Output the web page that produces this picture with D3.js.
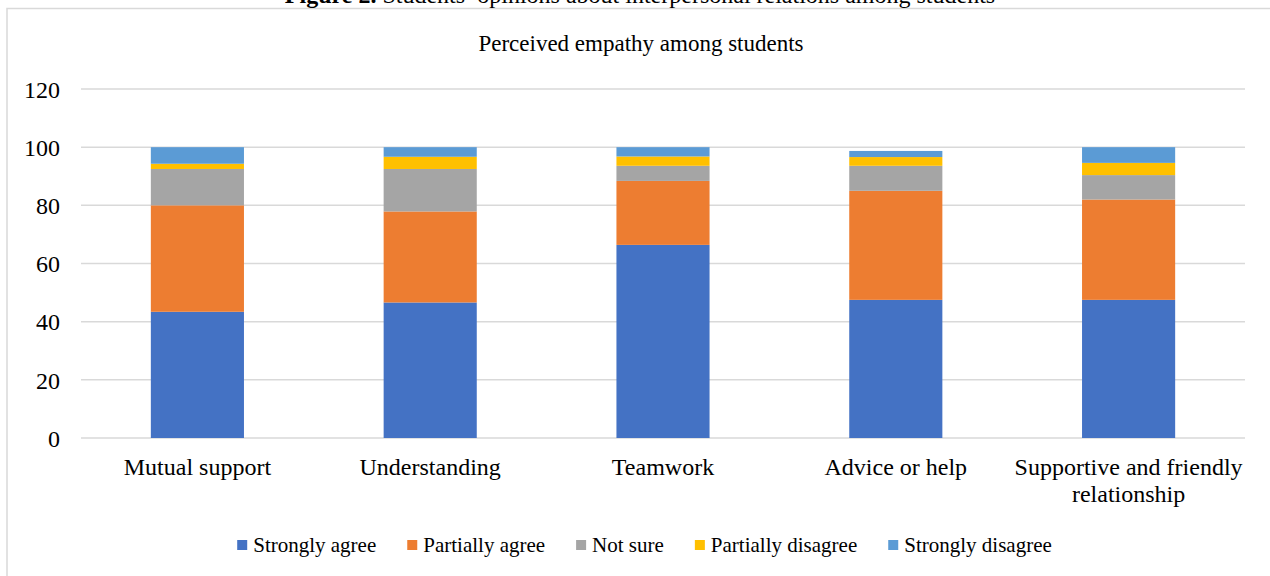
<!DOCTYPE html>
<html>
<head>
<meta charset="utf-8">
<script src="https://cdn.jsdelivr.net/npm/d3@7"></script>
<style>
  html, body { margin: 0; padding: 0; background: #fff; }
  svg { display: block; }
  svg text { font-family: "Liberation Serif", "Times New Roman", serif !important; }
</style>
</head>
<body>
<svg id="chart" width="1270" height="576"></svg>
<script>
// Survey categories (x axis)
const categories = [
  ["Mutual support"],
  ["Understanding"],
  ["Teamwork"],
  ["Advice or help"],
  ["Supportive and friendly", "relationship"]
];
const categoryKeys = ["Mutual support", "Understanding", "Teamwork", "Advice or help", "Supportive and friendly relationship"];

// Answer shares (%) per category, one array per response
const seriesNames = ["Strongly agree", "Partially agree", "Not sure", "Partially disagree", "Strongly disagree"];
const stronglyAgree     = [43.4, 46.6, 66.4, 47.5, 47.5];
const partiallyAgree    = [36.6, 31.3, 22.0, 37.5, 34.5];
const notSure           = [12.5, 14.6, 5.2, 8.6, 8.4];
const partiallyDisagree = [1.8, 4.2, 3.2, 3.0, 4.2];
const stronglyDisagree  = [5.7, 3.3, 3.2, 2.1, 5.4];
const seriesColors = ["#4472C4", "#ED7D31", "#A5A5A5", "#FFC000", "#5B9BD5"];

const yTicks = [0, 20, 40, 60, 80, 100, 120];

const rows = categoryKeys.map((c, i) => ({
  category: c,
  "Strongly agree": stronglyAgree[i],
  "Partially agree": partiallyAgree[i],
  "Not sure": notSure[i],
  "Partially disagree": partiallyDisagree[i],
  "Strongly disagree": stronglyDisagree[i]
}));

const svg = d3.select("#chart");
const margin = { left: 81, right: 25, top: 89, bottom: 138 };
const W = 1270, H = 576;

// Outer chart frame
svg.append("rect")
  .attr("x", 7).attr("y", 8.5)
  .attr("width", W + 10).attr("height", H + 10)
  .attr("fill", "none").attr("stroke", "#d9d9d9").attr("stroke-width", 1.5);

// Figure caption (partly above the frame)
const cap = svg.append("text")
  .attr("x", 640).attr("y", 3)
  .attr("text-anchor", "middle")
  .attr("font-size", 24).attr("fill", "#000");
cap.append("tspan").attr("font-weight", "bold").text("Figure 2.");
cap.append("tspan").text(" Students’ opinions about interpersonal relations among students");

// Chart title
svg.append("text")
  .attr("x", 641).attr("y", 51)
  .attr("text-anchor", "middle")
  .attr("font-size", 23).attr("fill", "#000")
  .text("Perceived empathy among students");

const x = d3.scaleBand()
  .domain(categoryKeys)
  .range([margin.left, W - margin.right])
  .paddingInner(0.6).paddingOuter(0.3);

const y = d3.scaleLinear()
  .domain([0, 120])
  .range([H - margin.bottom, margin.top]);

// Gridlines
svg.append("g")
  .selectAll("line")
  .data(yTicks)
  .join("line")
  .attr("x1", margin.left).attr("x2", W - margin.right)
  .attr("y1", d => y(d)).attr("y2", d => y(d))
  .attr("stroke", "#d9d9d9").attr("stroke-width", 1.5);

// Y axis labels
const yAxis = d3.axisLeft(y).tickValues(yTicks).tickSize(0).tickPadding(0);
const yg = svg.append("g")
  .attr("transform", `translate(${margin.left - 21},0)`)
  .call(yAxis)
  .attr("font-family", null)
  .attr("font-size", null);
yg.select(".domain").remove();
yg.selectAll("text")
  .attr("font-size", 24).attr("fill", "#000").attr("dy", "0.34em");

// Stacked bars
const stacked = d3.stack().keys(seriesNames)(rows);
svg.append("g")
  .selectAll("g")
  .data(stacked)
  .join("g")
  .attr("fill", (d, i) => seriesColors[i])
  .selectAll("rect")
  .data(d => d)
  .join("rect")
  .attr("x", d => x(d.data.category))
  .attr("width", x.bandwidth())
  .attr("y", d => y(d[1]))
  .attr("height", d => y(d[0]) - y(d[1]));

// Category labels
const xg = svg.append("g");
categoryKeys.forEach((c, i) => {
  const t = xg.append("text")
    .attr("x", x(c) + x.bandwidth() / 2)
    .attr("y", 475)
    .attr("text-anchor", "middle")
    .attr("font-size", 24).attr("fill", "#000");
  categories[i].forEach((line, j) => {
    t.append("tspan")
      .attr("x", x(c) + x.bandwidth() / 2)
      .attr("dy", j === 0 ? 0 : 27)
      .text(line);
  });
});

// Legend
const legend = svg.append("g");
const items = legend.selectAll("g")
  .data(seriesNames)
  .join("g");
items.append("rect")
  .attr("width", 10).attr("height", 10)
  .attr("y", 540)
  .attr("fill", (d, i) => seriesColors[i]);
items.append("text")
  .attr("x", 16).attr("y", 552)
  .attr("font-size", 21).attr("fill", "#000")
  .text(d => d);
let cursor = 0;
const offsets = [];
items.each(function() {
  const w = d3.select(this).select("text").node().getComputedTextLength();
  offsets.push(cursor);
  cursor += 16 + w + 31;
});
const total = cursor - 31;
const startX = 644.5 - total / 2;
items.attr("transform", (d, i) => `translate(${startX + offsets[i]},0)`);
</script>
</body>
</html>
